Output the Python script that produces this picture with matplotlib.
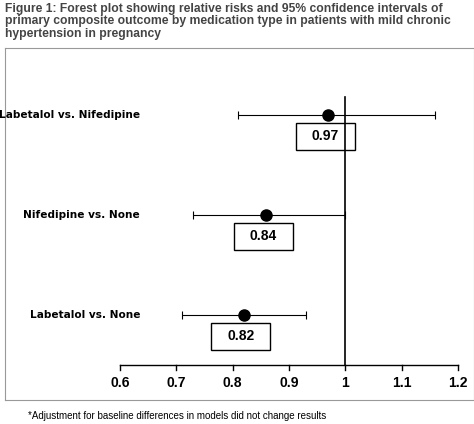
import matplotlib.pyplot as plt
from matplotlib.patches import Rectangle

labels = ["Labetalol vs. Nifedipine", "Nifedipine vs. None", "Labetalol vs. None"]
rr = [0.97, 0.86, 0.82]
rr_text = ["0.97", "0.84", "0.82"]
lo = [0.81, 0.73, 0.71]
hi = [1.16, 1.00, 0.93]
rows = [115, 215, 315]
ticks = [0.6, 0.7, 0.8, 0.9, 1.0, 1.1, 1.2]
tick_labels = ["0.6", "0.7", "0.8", "0.9", "1", "1.1", "1.2"]

W, H = 474, 424
fig = plt.figure(figsize=(W / 100, H / 100), dpi=100)
fig.text(5 / W, 1 - 3 / H,
         "Figure 1: Forest plot showing relative risks and 95% confidence intervals of\n"
         "primary composite outcome by medication type in patients with mild chronic\n"
         "hypertension in pregnancy",
         ha="left", va="top", fontsize=8.7, fontweight="bold", color="#444444",
         family="Liberation Sans", linespacing=1.05)
fig.text(28 / W, 1 - 416 / H,
         "*Adjustment for baseline differences in models did not change results",
         ha="left", va="center", fontsize=7, family="Liberation Sans")

# axes spanning the outer frame; x in data units, y in pixel rows
px = 563.0  # pixels per unit
ax = fig.add_axes([5 / W, 1 - 400 / H, 469 / W, 352 / H])
ax.set_xlim(0.6 - 115 / px, 1.2 + 16 / px)
ax.set_ylim(352 + 48, 48)
ax.set_xticks([]); ax.set_yticks([])
for s in ax.spines.values():
    s.set_color("#999999"); s.set_linewidth(0.8)

axis_y = 365
ax.plot([0.6, 1.2], [axis_y, axis_y], color="black", lw=1)
for t, tl in zip(ticks, tick_labels):
    ax.plot([t, t], [axis_y, axis_y + 5], color="black", lw=1)
    ax.text(t, 383, tl, ha="center", va="center", fontsize=10, fontweight="bold",
            family="Liberation Sans")
ax.plot([1.0, 1.0], [97, axis_y], color="black", lw=1.2)

for lab, r, rt, l, h, y in zip(labels, rr, rr_text, lo, hi, rows):
    ax.errorbar(r, y, xerr=[[r - l], [h - r]], fmt="o", color="black",
                ms=8, capsize=3, elinewidth=0.8, capthick=0.8)
    ax.text(0.6 + 20 / px, y, lab, ha="right", va="center",
            fontsize=7.6, fontweight="bold", family="Liberation Sans Narrow")
    bw, bh = 59 / px, 27
    ax.add_patch(Rectangle((r - bw / 2 - 3 / px, y + 8), bw, bh, fill=False,
                           edgecolor="black", lw=1))
    ax.text(r - 3 / px, y + 8 + bh / 2, rt, ha="center", va="center",
            fontsize=10, fontweight="bold", family="Liberation Sans")

fig.savefig("out.png", dpi=100)
